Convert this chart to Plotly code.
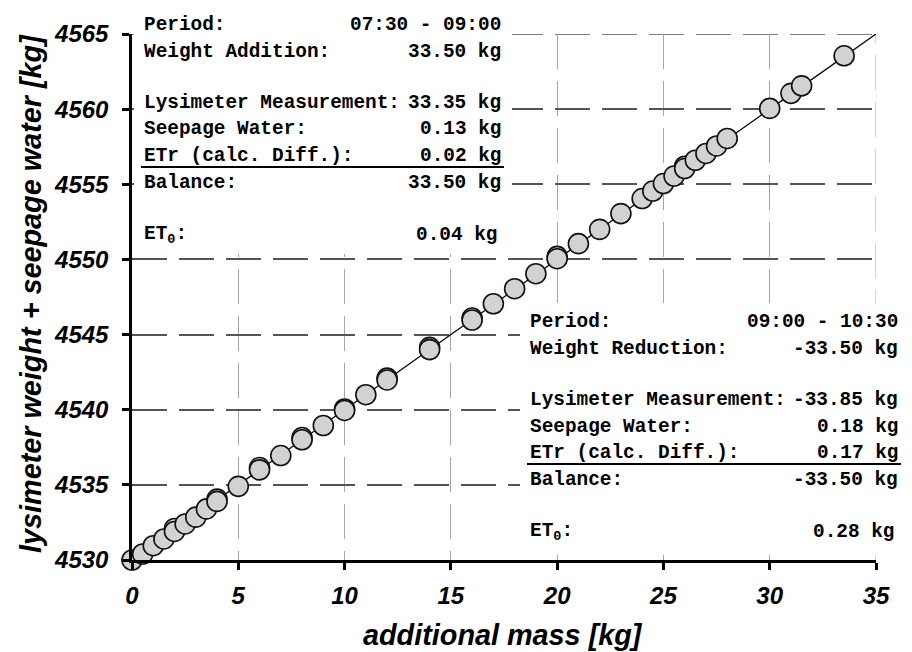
import plotly.graph_objects as go

# ---- data ----
mass_x = [0, 0.5, 1, 1.5, 2, 2, 2.5, 3, 3.5, 4, 4, 5, 6, 6, 7, 8, 8, 9, 10, 10, 11, 12, 12,
          14, 14, 16, 16, 17, 18, 19, 20, 20, 21, 22, 23, 24, 24.5, 25, 25.5, 26, 26, 26.5,
          27, 27.5, 28, 30, 31, 31.5, 33.5]
weight_y = [4530.0, 4530.4, 4530.95, 4531.4, 4532.1, 4531.9, 4532.4, 4532.85, 4533.4, 4534.05, 4533.9,
            4534.9, 4536.15, 4536.0, 4536.95, 4538.15, 4538.0, 4538.95, 4540.05, 4539.95, 4541.0,
            4542.1, 4541.98, 4544.15, 4544.0, 4546.1, 4545.97, 4547.05, 4548.05, 4549.05, 4550.2,
            4550.05, 4551.05, 4552.0, 4553.05, 4554.05, 4554.55, 4555.05, 4555.55, 4556.2, 4556.05,
            4556.6, 4557.05, 4557.55, 4558.05, 4560.05, 4561.05, 4561.55, 4563.55]
line_x = [0, 35]
line_y = [4530, 4565]

x_ticks = [0, 5, 10, 15, 20, 25, 30, 35]
y_ticks = [4530, 4535, 4540, 4545, 4550, 4555, 4560, 4565]

box1_labels = ["Period:", "Weight Addition:", "Lysimeter Measurement:", "Seepage Water:",
               "ETr (calc. Diff.):", "Balance:", "ET<sub>0</sub>:"]
box1_values = ["07:30 - 09:00", "33.50 kg", "33.35 kg", "0.13 kg", "0.02 kg", "33.50 kg", "0.04 kg"]
box2_labels = ["Period:", "Weight Reduction:", "Lysimeter Measurement:", "Seepage Water:",
               "ETr (calc. Diff.):", "Balance:", "ET<sub>0</sub>:"]
box2_values = ["09:00 - 10:30", "-33.50 kg", "-33.85 kg", "0.18 kg", "0.17 kg", "-33.50 kg", "0.28 kg"]

# ---- layout geometry (screen pixels; page body has an 8px margin) ----
OFF = 8
W, H = 904, 644
PLOT_L, PLOT_R, PLOT_T, PLOT_B = 132, 876, 32, 560   # screen coords of plot area
L = PLOT_L - OFF
T = PLOT_T - OFF
R = W - (PLOT_R - OFF)
B = H - (PLOT_B - OFF)
PW, PH = PLOT_R - PLOT_L, PLOT_B - PLOT_T


def px(x):
    return (x - PLOT_L) / PW


def py(y):
    return (PLOT_B - y) / PH


row_offsets = [0, 27, 78, 104.5, 131, 158.5, 210.5]

fig = go.Figure()
fig.add_trace(go.Scatter(x=line_x, y=line_y, mode="lines",
                         line=dict(color="black", width=1.3), hoverinfo="skip", showlegend=False))
fig.add_trace(go.Scatter(x=mass_x, y=weight_y, mode="markers", cliponaxis=False,
                         marker=dict(size=20, color="#d2d2d2", line=dict(color="#111111", width=1.6)),
                         showlegend=False))

tick_font = dict(family="Liberation Sans, Arial", size=24, color="black", weight="bold", style="italic")
title_font = dict(family="Liberation Sans, Arial", size=28.8, color="black", weight="bold", style="italic")
mono = dict(family="Liberation Mono, Courier New, monospace", size=19.4, color="black", weight="bold")

annotations = []
shapes = []

# grid lines at the range ends (plotly omits them at the edges)
shapes.append(dict(type="line", xref="x", yref="y", layer="below", x0=0, x1=35, y0=4565, y1=4565,
                   line=dict(color="#555555", width=1.5, dash="35px,12px")))
shapes.append(dict(type="line", xref="x", yref="y", layer="below", x0=35, x1=35, y0=4530, y1=4565,
                   line=dict(color="#a5a5a5", width=1, dash="35px,12px")))


def add_box(labels, values, left, right, top, sep_y, box):
    x0, x1, y0, y1 = box
    annotations.append(dict(xref="paper", yref="paper", x=px((x0 + x1) / 2), y=py((y0 + y1) / 2),
                            text=" ", showarrow=False, xanchor="center", yanchor="middle",
                            width=x1 - x0, height=y1 - y0, bgcolor="white", borderpad=0, borderwidth=0,
                            font=dict(size=2)))
    for i, (lab, val) in enumerate(zip(labels, values)):
        yy = top + row_offsets[i]
        r = right - 4 if i == len(labels) - 1 else right
        annotations.append(dict(xref="paper", yref="paper", x=px(left), y=py(yy), text=lab,
                                showarrow=False, xanchor="left", yanchor="middle", font=mono))
        annotations.append(dict(xref="paper", yref="paper", x=px(r), y=py(yy), text=val,
                                showarrow=False, xanchor="right", yanchor="middle", font=mono))
    annotations.append(dict(xref="paper", yref="paper", x=px((left + right) / 2), y=py(sep_y),
                            text=" ", showarrow=False, xanchor="center", yanchor="middle",
                            width=right - left + 2, height=2, bgcolor="black", borderpad=0, borderwidth=0,
                            font=dict(size=1)))


add_box(box1_labels, box1_values, 142, 503, 23, 166, (134.5, 512, 20, 252))
add_box(box2_labels, box2_values, 528, 900, 321.5, 464, (520, 904, 303, 555))

annotations.append(dict(xref="paper", yref="paper", x=px(31), y=py(293), text="lysimeter weight + seepage water [kg]",
                        textangle=-90, showarrow=False, xanchor="center", yanchor="middle", font=title_font))
annotations.append(dict(xref="paper", yref="paper", x=px(503), y=py(635), text="additional mass [kg]",
                        showarrow=False, xanchor="center", yanchor="middle", font=title_font))

fig.update_layout(
    width=W, height=H,
    margin=dict(l=L, r=R, t=T, b=B, pad=0),
    paper_bgcolor="white", plot_bgcolor="white",
    annotations=annotations, shapes=shapes,
    showlegend=False,
)
fig.update_xaxes(range=[0, 35], tickvals=x_ticks, ticktext=[str(v) for v in x_ticks],
                 showline=True, linecolor="black", linewidth=2.5, ticks="outside", ticklen=7,
                 tickwidth=2.5, tickcolor="black", tickfont=tick_font, ticklabelstandoff=5,
                 showgrid=True, gridcolor="#a5a5a5", gridwidth=1, griddash="35px,12px",
                 zeroline=False)
fig.update_yaxes(range=[4530, 4565], tickvals=y_ticks, ticktext=[str(v) for v in y_ticks],
                 showline=True, linecolor="black", linewidth=2.5, ticks="outside", ticklen=7,
                 tickwidth=2.5, tickcolor="black", tickfont=tick_font, ticklabelstandoff=9,
                 showgrid=True, gridcolor="#555555", gridwidth=1.5, griddash="35px,12px",
                 zeroline=False)

fig.write_html("out.html")
